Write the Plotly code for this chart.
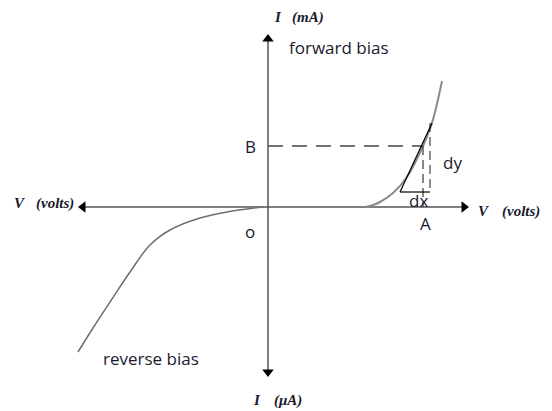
import plotly.graph_objects as go

# Diode I-V sketch, coordinates in plot units (origin at the axes crossing)
fwd_v = [97, 105, 112, 125, 139, 155, 164, 174]
fwd_i = [0, 2, 5, 14, 30, 61, 84, 126]
rev_v = [-5, -41, -68, -98, -118, -138, -158, -175, -190]
rev_i = [0, -5, -11, -23, -38, -65, -95, -121, -145]

point_a_v = 155
point_b_i = 61
tan_v = [132, 164]
tan_i = [15, 84]
dx_v = [132, 162]
dy_top = 84
dy_bottom = 15
dy_v = 162

fig = go.Figure()

axis_col = "#7f7f7f"
# axes
fig.add_trace(go.Scatter(x=[0, 0], y=[170, -166], mode="lines",
                         line=dict(color=axis_col, width=2), hoverinfo="skip"))
fig.add_trace(go.Scatter(x=[-186, 196], y=[0, 0], mode="lines",
                         line=dict(color="#555555", width=1.5), hoverinfo="skip"))
# arrowheads
fig.add_trace(go.Scatter(x=[0], y=[168], mode="markers",
                         marker=dict(symbol="triangle-up", size=10, color="black"), hoverinfo="skip"))
fig.add_trace(go.Scatter(x=[0], y=[-165], mode="markers",
                         marker=dict(symbol="triangle-down", size=10, color="black"), hoverinfo="skip"))
fig.add_trace(go.Scatter(x=[196], y=[0], mode="markers",
                         marker=dict(symbol="triangle-right", size=10, color="black"), hoverinfo="skip"))
fig.add_trace(go.Scatter(x=[-185], y=[0], mode="markers",
                         marker=dict(symbol="triangle-left", size=10, color="black"), hoverinfo="skip"))

# curves
fig.add_trace(go.Scatter(x=fwd_v, y=fwd_i, mode="lines", line_shape="spline",
                         line=dict(color="#8a8a8a", width=2), hoverinfo="skip"))
fig.add_trace(go.Scatter(x=rev_v, y=rev_i, mode="lines", line_shape="spline",
                         line=dict(color="#6e6e6e", width=1.5), hoverinfo="skip"))

dash = "15px,9px"
# B dashed horizontal
fig.add_trace(go.Scatter(x=[0, point_a_v], y=[point_b_i, point_b_i], mode="lines",
                         line=dict(color="#444444", width=1.3, dash=dash), hoverinfo="skip"))
# A dashed vertical
fig.add_trace(go.Scatter(x=[point_a_v, point_a_v], y=[point_b_i, 0], mode="lines",
                         line=dict(color="#444444", width=1.3, dash="9px,5px"), hoverinfo="skip"))
# dy dashed vertical
fig.add_trace(go.Scatter(x=[dy_v, dy_v], y=[dy_top, dy_bottom], mode="lines",
                         line=dict(color="#444444", width=1.2, dash="9px,5px"), hoverinfo="skip"))
# tangent and dx
fig.add_trace(go.Scatter(x=tan_v, y=tan_i, mode="lines",
                         line=dict(color="black", width=1.2), hoverinfo="skip"))
fig.add_trace(go.Scatter(x=dx_v, y=[dy_bottom, dy_bottom], mode="lines",
                         line=dict(color="black", width=1.2), hoverinfo="skip"))

sans = "Open Sans"
serif = "Liberation Serif"
tc = "#1a1a2e"

def txt(x, y, s, size=17, family=sans, xanchor="center"):
    fig.add_annotation(x=x, y=y, text=s, showarrow=False, xanchor=xanchor, yanchor="middle",
                       font=dict(family=family, size=size, color=tc))

txt(19, 160, "forward bias", 17, sans, "left")
txt(-18, 61, "B", 17)
txt(-18, -24, "o", 17)
txt(184, 45, "dy", 17)
txt(150, 7, "dx", 17)
txt(157, -16, "A", 17)
txt(-167, -151, "reverse bias", 17, sans, "left")

def lab(x, y, s):
    txt(x, y, "<b><i>" + s + "</i></b>", 15, serif, "left")

lab(4, 190, "I")
lab(22, 190, "(mA)")
lab(-17, -193, "I")
lab(4, -193, "(μA)")
lab(-256, 4, "V")
lab(-234, 4, "(volts)")
lab(208, -4, "V")
lab(232, -4, "(volts)")

# page body has an 8px margin: figure covers pixels 8..552 x 8..411
fig.update_layout(
    width=544, height=403,
    margin=dict(l=0, r=0, t=0, b=0),
    paper_bgcolor="white", plot_bgcolor="white",
    showlegend=False,
    xaxis=dict(range=[-260, 284], visible=False, fixedrange=True),
    yaxis=dict(range=[-204, 199], visible=False, fixedrange=True),
)

fig.write_html("out.html", config={"displayModeBar": False})
